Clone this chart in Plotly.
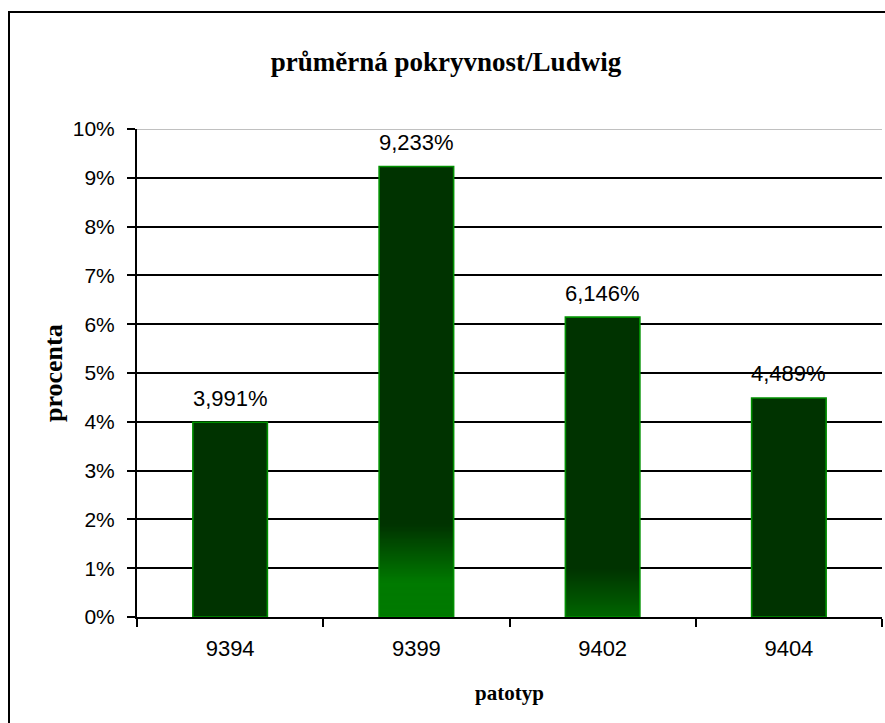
import plotly.graph_objects as go

# Mean coverage per pathotype (percent)
categories = ["9394", "9399", "9402", "9404"]
values = [3.991, 9.233, 6.146, 4.489]
y_ticks = list(range(0, 11))

title_text = "průměrná pokryvnost/Ludwig"
x_title = "patotyp"
y_title = "procenta"

# Styling
DARK = (0, 51, 0)
OUTLINE = "#009000"
# lower shading per bar: (height of the fade in %, bottom colour, solid part in %)
shade = {
    "9399": (1.9, (0, 122, 0), 0.7),
    "9402": (1.0, (0, 102, 0), 0.0),
}

W, H = 885, 723
L, R, T, B = 137, 3, 129, 106
BAR_W = 0.4

fig = go.Figure()

# base bars
fig.add_trace(go.Bar(
    x=categories, y=values, width=BAR_W,
    marker=dict(color="rgb(%d,%d,%d)" % DARK, line=dict(width=0)),
    hoverinfo="skip", showlegend=False,
))

# gradient shading near the bottom of some bars: thin slices, each one
# overlapping the next so no seams show
seg_x, seg_base, seg_h, seg_col = [], [], [], []
N = 100
for cat, v in zip(categories, values):
    if cat not in shade:
        continue
    top, col, solid = shade[cat]
    top = min(top, v)
    step = top / N
    for k in range(N):
        b = k * step
        mid = b + step / 2
        if mid <= solid:
            t = 0.0
        else:
            t = (mid - solid) / (top - solid)
        c = tuple(round(col[j] + (DARK[j] - col[j]) * t) for j in range(3))
        seg_x.append(cat)
        seg_base.append(b)
        seg_h.append(min(step * 3, top - b))
        seg_col.append("rgb(%d,%d,%d)" % c)

fig.add_trace(go.Bar(
    x=seg_x, y=seg_h, base=seg_base, width=BAR_W,
    marker=dict(color=seg_col, line=dict(width=0)),
    hoverinfo="skip", showlegend=False,
))

# outlines on top
fig.add_trace(go.Bar(
    x=categories, y=values, width=BAR_W,
    marker=dict(color="rgba(0,0,0,0)", line=dict(width=1.6, color=OUTLINE)),
    showlegend=False,
))

# value labels (category axis positions by index)
for i, v in enumerate(values):
    fig.add_annotation(
        x=i, y=v, xref="x", yref="y",
        text=f"{v:.3f}".replace(".", ",") + "%",
        showarrow=False, yanchor="middle", yshift=24,
        font=dict(family="Liberation Sans, Arial", size=22, color="black"),
    )

pw = W - L - R
ph = H - T - B

# axis titles
fig.add_annotation(
    x=0.5, y=0, xref="paper", yref="paper", text=f"<b>{x_title}</b>",
    showarrow=False, yanchor="middle", yshift=-(693 - (H - B)),
    font=dict(family="Liberation Serif, Times New Roman", size=21, color="black"),
)
fig.add_annotation(
    x=0, y=0.5, xref="paper", yref="paper", text=f"<b>{y_title}</b>",
    showarrow=False, xanchor="center", xshift=-(L - 53), textangle=-90,
    font=dict(family="Liberation Serif, Times New Roman", size=26, color="black"),
)

# top gridline is light grey
fig.add_shape(type="line", xref="paper", yref="y", x0=0, x1=1, y0=10, y1=10,
              line=dict(color="#c0c0c0", width=2), layer="above")

# outer frame
fig.add_shape(type="rect", xref="paper", yref="paper",
              x0=(9 - L) / pw, x1=(W + 20 - L) / pw,
              y0=-(B + 20) / ph, y1=(H - B - 12) / ph,
              line=dict(color="black", width=2), fillcolor="rgba(0,0,0,0)",
              layer="below")

fig.update_layout(
    width=W, height=H,
    margin=dict(l=L, r=R, t=T, b=B, autoexpand=False),
    paper_bgcolor="white", plot_bgcolor="white",
    barmode="overlay",
    title=dict(
        text=f"<b>{title_text}</b>", x=446 / W, xref="container", xanchor="center",
        y=1 - 62 / H, yref="container", yanchor="middle",
        font=dict(family="Liberation Serif, Times New Roman", size=27, color="black"),
    ),
    font=dict(family="Liberation Sans, Arial", size=21, color="black"),
)

fig.update_xaxes(
    type="category", categoryorder="array", categoryarray=categories,
    range=[-0.5, len(categories) - 0.5], fixedrange=True,
    showline=True, linecolor="black", linewidth=2,
    ticks="outside", ticklen=8, tickwidth=2, tickcolor="black",
    tickson="boundaries", showgrid=False, ticklabelstandoff=11,
    tickfont=dict(family="Liberation Sans, Arial", size=22, color="black"),
)
fig.update_yaxes(
    range=[0, 10], tickvals=y_ticks, ticktext=[f"{t}%" for t in y_ticks],
    showline=True, linecolor="black", linewidth=2,
    ticks="outside", ticklen=8, tickwidth=2, tickcolor="black",
    showgrid=True, gridcolor="black", gridwidth=2, zeroline=False,
    ticklabelstandoff=8,
    tickfont=dict(family="Liberation Sans, Arial", size=21, color="black"),
)

fig.write_html("out.html")
